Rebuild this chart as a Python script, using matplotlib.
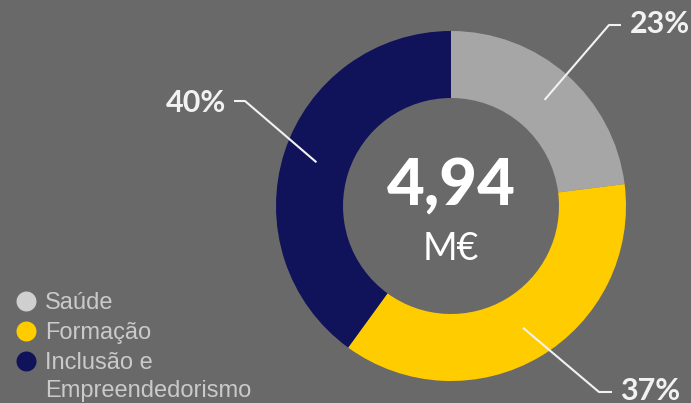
import numpy as np
import matplotlib
matplotlib.use("Agg")
import matplotlib.pyplot as plt

categories = ["Saúde", "Formação", "Inclusão e\nEmpreendedorismo"]
values = [23, 37, 40]
labels = ["23%", "37%", "40%"]
colors = ["#a6a6a6", "#ffcc00", "#10125a"]
legend_colors = ["#cfcfcf", "#ffcc00", "#10125a"]
total_text = "4,94"
unit_text = "M€"

BG = "#696969"
W, H = 691, 403
fig = plt.figure(figsize=(W / 100, H / 100), dpi=100, facecolor=BG)
ax = fig.add_axes([0, 0, 1, 1])
ax.set_facecolor(BG)

def Y(y):
    return H - y

cx, cy = 451, Y(206)
R, width = 175, 67
wedges, _ = ax.pie(values, colors=colors, startangle=90, counterclock=False,
                   radius=R, center=(cx, cy), wedgeprops=dict(width=width, linewidth=0),
                   frame=True)
ax.set_xlim(0, W)
ax.set_ylim(0, H)
ax.set_aspect("equal")
ax.axis("off")

# leader lines: elbow + end in pixel positions
elbows = [((609, 25), (621, 25)), ((599, 392), (612, 392)), ((245, 101), (234, 101))]
text_pos = [(630, 24, "left"), (620, 391, "left"), (226, 103, "right")]
rmid = R - width / 2
for w, (e1, e2), (tx, ty, ha), lab in zip(wedges, elbows, text_pos, labels):
    ang = np.deg2rad((w.theta1 + w.theta2) / 2)
    sx, sy = cx + rmid * np.cos(ang), cy + rmid * np.sin(ang)
    ax.plot([sx, e1[0], e2[0]], [sy, Y(e1[1]), Y(e2[1])], color="#f2f2f2", lw=1.5,
            solid_capstyle="butt")
    ax.text(tx, Y(ty), lab, ha=ha, va="center", color="#f2f2f2", fontsize=22,
            fontfamily="Lato", fontweight="bold")

ax.text(cx, Y(187), total_text, ha="center", va="center", color="#ffffff", fontsize=47,
        fontfamily="Lato", fontweight="black")
ax.text(cx, Y(249), unit_text, ha="center", va="center", color="#ffffff", fontsize=27,
        fontfamily="Lato", fontweight="normal")

# legend
marker_y = [301, 331, 361]
for c, lab, y in zip(legend_colors, categories, marker_y):
    ax.scatter([26], [Y(y)], s=207, color=c, linewidths=0)
    for i, line in enumerate(lab.split("\n")):
        ax.text(45, Y(y + 8 + 28 * i), line, ha="left", va="baseline",
                color="#cacaca", fontsize=17, fontfamily="Liberation Sans")

fig.savefig("out.png", dpi=100, facecolor=BG)
